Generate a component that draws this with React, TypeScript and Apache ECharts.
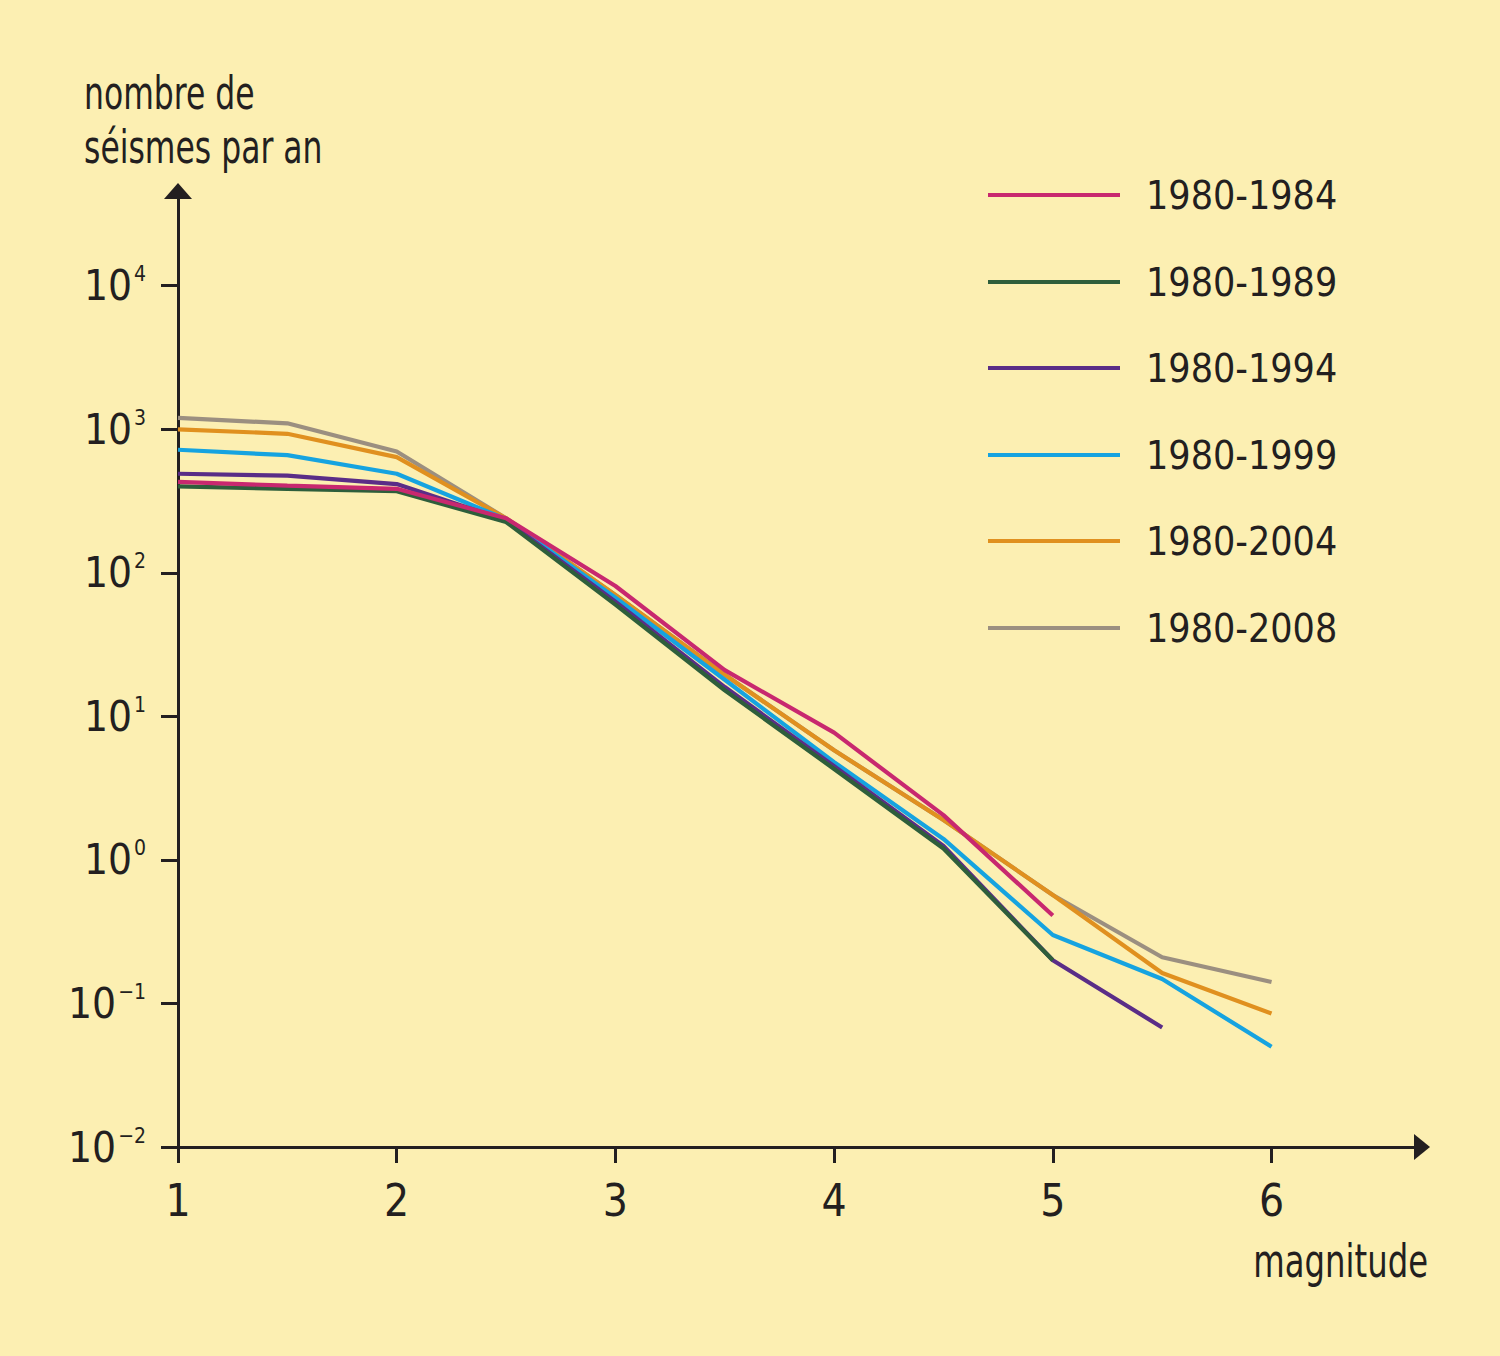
import React, { useEffect, useRef } from "react";
import * as echarts from "echarts";

const magnitudes = [1, 1.5, 2, 2.5, 3, 3.5, 4, 4.5, 5, 5.5, 6];
const seriesNames = ["1980-1984", "1980-1989", "1980-1994", "1980-1999", "1980-2004", "1980-2008"];
const v1980_1984 = [430, 405, 385, 240, 81, 21, 7.7, 2.05, 0.41];
const v1980_1989 = [400, 385, 370, 226, 60, 15.2, 4.3, 1.2, 0.2];
const v1980_1994 = [490, 475, 415, 232, 63, 16, 4.5, 1.25, 0.2, 0.068];
const v1980_1999 = [720, 660, 490, 236, 67, 18, 4.8, 1.4, 0.3, 0.148, 0.05];
const v1980_2004 = [1000, 930, 640, 240, 70, 19.5, 5.8, 1.9, 0.57, 0.163, 0.085];
const v1980_2008 = [1200, 1100, 700, 240, 70, 19.5, 5.8, 1.9, 0.57, 0.21, 0.141];
const xTicks = [1, 2, 3, 4, 5, 6];
const yTicks = [0.01, 0.1, 1, 10, 100, 1000, 10000];
const yTitle = "nombre de\nséismes par an";
const xTitle = "magnitude";

const colors = ["#c8286f", "#2e5e3b", "#5a2d87", "#16a3e0", "#e0901f", "#9b8f80"];
const FONT = "'Liberation Sans Narrow', 'DejaVu Sans Condensed', 'Noto Sans', sans-serif";
const INK = "#231f20";

export default function App() {
  const ref = useRef<HTMLDivElement>(null);
  useEffect(() => {
    if (!ref.current) return;
    const chart = echarts.init(ref.current, null, { renderer: "svg" });
    const values = [v1980_1984, v1980_1989, v1980_1994, v1980_1999, v1980_2004, v1980_2008];
    const series = values.map((vals, i) => ({
      name: seriesNames[i],
      type: "line",
      symbol: "none",
      data: vals.map((v, j) => [magnitudes[j], v]),
      lineStyle: { color: colors[i], width: 4.2 },
      itemStyle: { color: colors[i] },
    }));
    // draw order: gray first, pink last
    const drawOrder = [5, 4, 3, 2, 1, 0].map((i) => series[i]);
    const rowY = [195, 282, 368, 455, 541, 628];
    const legends = seriesNames.map((n, i) => ({
      data: [n],
      left: 988,
      top: rowY[i] - 22,
      padding: 0,
      icon: "rect",
      itemWidth: 132,
      itemHeight: 4,
      selectedMode: false,
      textStyle: { fontSize: 39, fontFamily: FONT, color: INK, lineHeight: 44, padding: [0, 0, 0, 21] },
    }));
    chart.setOption({
      animation: false,
      backgroundColor: "#fcefb2",
      grid: { left: 178, right: 78, top: 191, bottom: 209, containLabel: false },
      legend: legends,
      xAxis: {
        type: "value",
        min: 1,
        max: 6.688,
        interval: 1,
        splitLine: { show: false },
        axisLine: {
          lineStyle: { color: INK, width: 3 },
          symbol: ["none", "triangle"],
          symbolSize: [26, 16],
        },
        axisTick: { length: 16, lineStyle: { color: INK, width: 3 }, customValues: xTicks },
        axisLabel: {
          customValues: xTicks,
          margin: 31,
          fontSize: 44,
          fontFamily: FONT,
          color: INK,
        },
      },
      yAxis: {
        type: "log",
        logBase: 10,
        min: 0.01,
        max: Math.pow(10, 4.66),
        splitLine: { show: false },
        axisLine: {
          lineStyle: { color: INK, width: 3 },
          symbol: ["none", "triangle"],
          symbolSize: [28, 16],
        },
        axisTick: { length: 17, lineStyle: { color: INK, width: 3 }, customValues: yTicks },
        axisLabel: {
          customValues: yTicks,
          margin: 32,
          formatter: (v: number) => {
            const e = Math.round(Math.log10(v));
            const s = e < 0 ? "\u2212" + Math.abs(e) : String(e);
            return "{b|10}{s|" + s + "}";
          },
          rich: {
            b: { fontSize: 42, fontFamily: FONT, color: INK, lineHeight: 44 },
            s: { fontSize: 21, fontFamily: FONT, color: INK, lineHeight: 24, verticalAlign: "top", padding: [0, 0, 0, 2] },
          },
        },
      },
      graphic: [
        {
          type: "text",
          x: 84,
          y: 66,
          scaleX: 0.76,
          style: { text: yTitle, font: "46px " + FONT, fill: INK, lineHeight: 54, verticalAlign: "top" },
        },
        {
          type: "text",
          x: 1428,
          y: 1234,
          scaleX: 0.78,
          style: { text: xTitle, font: "46px " + FONT, fill: INK, lineHeight: 54, align: "right", verticalAlign: "top" },
        },
      ],
      series: drawOrder,
    });
    return () => chart.dispose();
  }, []);
  return (
    <div
      ref={ref}
      style={{ position: "fixed", left: 0, top: 0, width: 1500, height: 1356 }}
    />
  );
}
